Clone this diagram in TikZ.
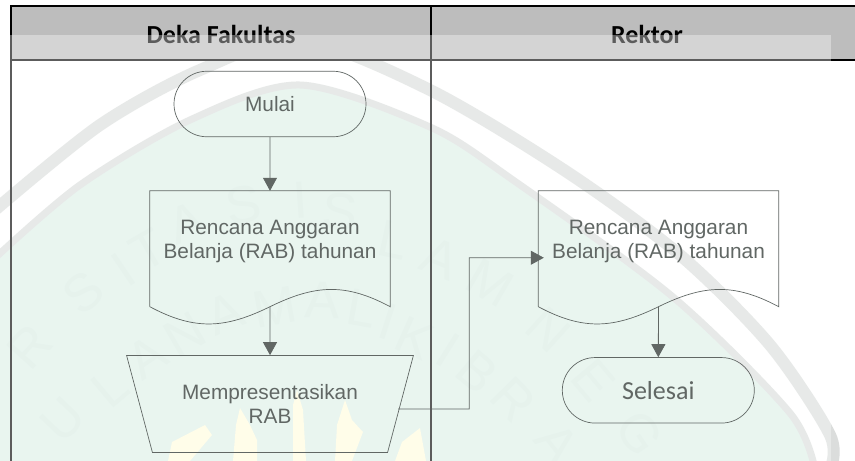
\documentclass[tikz,border=0pt]{standalone}
\usepackage{fontspec}
\setmainfont{Liberation Sans}
\newfontfamily\calibrifont{Carlito}
\usetikzlibrary{arrows.meta,calc,shapes.geometric,shapes.misc}
\definecolor{mintseal}{RGB}{221,240,231}
\definecolor{greyseal}{RGB}{219,221,220}
\definecolor{letterseal}{RGB}{216,235,226}
\definecolor{yellowseal}{RGB}{255,252,222}
\definecolor{headgrey}{RGB}{189,189,189}
\definecolor{flowline}{RGB}{8,18,14}
\tikzset{
    flowtext/.style={font=\fontsize{20.8}{24}\selectfont, align=center, inner sep=0pt, text=flowline},
    headtext/.style={font=\calibrifont\bfseries\fontsize{26}{30}\selectfont, inner sep=0pt},
    terminal/.style={draw=flowline, line width=0.7pt, rounded rectangle, minimum width=192pt, minimum height=65.5pt, inner sep=0pt},
    docbox/.style={minimum width=240pt, minimum height=115.5pt, inner sep=0pt},
    manualbox/.style={draw=flowline, line width=0.7pt, trapezium, trapezium stretches=true, shape border rotate=180, trapezium angle=63.7, minimum width=287.5pt, minimum height=97pt, inner sep=0pt},
    flowarrow/.style={draw=flowline, line width=0.8pt, -{Triangle[length=13pt,width=14pt]}},
    sealletter/.style={text=letterseal, inner sep=0pt, font=\fontsize{52}{52}\selectfont}
}
\newcommand{\docoutline}[1]{%
    \draw[flowline, line width=0.7pt] (#1.south west) -- (#1.north west) -- (#1.north east) -- (#1.south east)
    .. controls ($(#1.south east)+(-45,-24)$) and ($(#1.south)+(45,-22)$) .. (#1.south)
    .. controls ($(#1.south)+(-45,22)$) and ($(#1.south west)+(45,24)$) .. (#1.south west);}
\begin{document}
\begin{tikzpicture}[x=1pt,y=-1pt]
    \useasboundingbox (0,0) rectangle (855,461);
    %%Watermark
    \fill[white] (0,0) rectangle (855,461);
    \begin{scope}
    \clip (0,0) rectangle (855,461);
    \fill[mintseal] plot[smooth] coordinates {(-5,258) (80,185) (190,120) (300,85) (430,127) (513,180) (673,297) (790,413) (815,470)} -- (-5,470) -- cycle;
    \draw[greyseal, line width=12pt] plot[smooth] coordinates {(-5,210) (100,125) (200,70) (300,40) (430,90) (567,172) (680,255) (770,345) (830,435) (830,470)};
    \draw[greyseal, line width=7pt] plot[smooth] coordinates {(-5,258) (80,185) (190,120) (300,85) (430,127) (513,180) (673,297) (790,413) (815,470)};
    \foreach \lt/\lx/\ly/\la in {R/30/347/48, S/83/293/40, I/123/270/34, T/148/250/30, A/187/223/20, S/243/205/10,
        I/300/200/4, S/340/212/-4, L/393/240/-12, A/440/258/-22, M/490/283/-30,
        N/548/330/-42, E/593/380/-50, G/640/433/-56,
        U/63/420/46, L/110/387/40, A/147/357/34, N/185/335/30,
        A/225/313/22, M/275/307/10, A/322/300/-2, L/362/308/-10, I/388/322/-18, K/415/338/-24,
        I/448/350/-32, B/477/372/-40, R/513/400/-46, A/557/443/-52}
        {\node[sealletter, rotate=\la] (seal\lx) at (\lx,\ly) {\lt};}
    \fill[yellowseal] (168,461) -- (172,442) -- (205,425) -- (212,435) -- (190,461) -- cycle;
    \fill[yellowseal] (233,461) -- (236,425) -- (240,408) -- (250,425) -- (257,440) -- (257,461) -- cycle;
    \fill[yellowseal] (293,461) -- (293,405) -- (297,390) -- (303,410) -- (306,461) -- cycle;
    \fill[yellowseal] (335,461) -- (337,425) -- (345,400) -- (352,420) -- (363,432) -- (352,461) -- cycle;
    \fill[yellowseal] (395,461) -- (402,442) -- (420,428) -- (426,461) -- cycle;
    \end{scope}
    %%Header
    \fill[headgrey] (10,5) rectangle (855,60);
    \node[headtext] (dekan) at (221,34) {Deka Fakultas};
    \node[headtext] (rektor) at (647,34) {Rektor};
    \draw[line width=2pt] (10,5.5) -- (855,5.5);
    \draw[line width=2pt] (10,60) -- (855,60);
    \draw[line width=2pt] (11,5) -- (11,461);
    \draw[line width=2pt] (431,5) -- (431,461);
    %%Flowchart
    \node[terminal, flowtext] (mulai) at (270,104) {Mulai};
    \node[docbox] (rabdekan) at (270,248.75) {};
    \docoutline{rabdekan}
    \node[flowtext] (rabdekantext) at ([yshift=7pt]rabdekan.center) {Rencana Anggaran\\Belanja (RAB) tahunan};
    \node[manualbox, flowtext] (presentasi) at (270,404) {Mempresentasikan\\RAB};
    \node[docbox] (rabrektor) at (658.5,248.75) {};
    \docoutline{rabrektor}
    \node[flowtext] (rabrektortext) at ([yshift=7pt]rabrektor.center) {Rencana Anggaran\\Belanja (RAB) tahunan};
    \node[terminal, flowtext, font=\calibrifont\fontsize{26}{30}\selectfont] (selesai) at (658.3,390.3) {Selesai};
    %%Arrows
    \coordinate (presentasiout) at ([xshift=-2.7pt,yshift=-5pt]presentasi.east);
    \coordinate (rabmasuk) at ([xshift=5.5pt,yshift=-9pt]rabrektor.west);
    \draw[flowarrow] (mulai) -- (rabdekan.north);
    \draw[flowarrow] (rabdekan.south) -- (presentasi.north);
    \draw[flowarrow] (presentasiout) -- (469.3,409) -- (469.3,257.7) -- (rabmasuk);
    \draw[flowarrow] (rabrektor.south) -- (selesai.north);
    %%Overlay
    \fill[white, opacity=0.36] (0,35) rectangle (831,461);
\end{tikzpicture}
\end{document}
